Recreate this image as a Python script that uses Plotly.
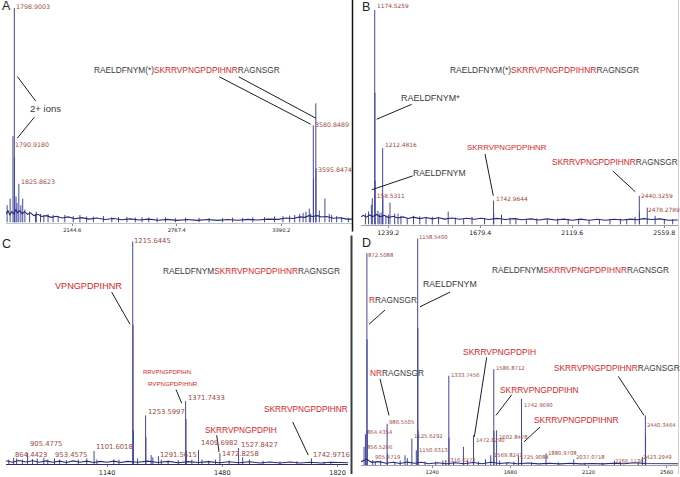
import plotly.graph_objects as go

W, H = 680, 477

# ---------------- DATA ----------------
# Panel A
A_mz = [1790.9180, 1798.9003, 1825.8623, 3580.8489, 3595.8474]
A_int = [39.7, 98.6, 17.8, 44.7, 54.8]
A_minor_mz = [1756, 1774, 1800.0, 1809, 1815, 1838, 1849, 1862, 1890, 1925, 1930, 1955, 1975, 2000,
              2030, 2060, 2100, 2150, 2190, 2230, 2270, 2330, 2380, 2420, 2470, 2520, 2560, 2600,
              2650, 2700, 2760, 2820, 2900, 2960, 3040, 3100, 3160, 3220, 3290, 3350, 3400, 3440,
              3470, 3500, 3520, 3537, 3557, 3565, 3582, 3597, 3617, 3650, 3676, 3690, 3720, 3750, 3790]
A_minor_int = [8, 11, 30, 12, 9, 8, 11, 6, 5, 4, 5, 4, 3.5, 4,
               3.5, 3, 3.5, 3, 3.5, 2.8, 2.8, 3, 2.5, 2.5, 2.6, 2.3, 2.5, 2.3,
               2.2, 2.4, 2, 2.2, 2.2, 2.1, 2, 2.3, 2.2, 2.4, 2.5, 2.8, 3, 3.2,
               3.5, 4, 4.5, 5, 6.4, 4, 20, 25, 5.5, 11, 4, 3.5, 3, 2.5, 2.2]
A_base_mz = [1750, 1762, 1772, 1784, 1796, 1808, 1818, 1832, 1846, 1860, 1878, 1896, 1915, 1940, 1962,
             1990, 2020, 2050, 2085, 2120, 2160, 2200, 2245, 2290, 2340, 2390, 2440, 2490, 2545, 2600,
             2655, 2710, 2770, 2830, 2890, 2950, 3010, 3070, 3130, 3190, 3250, 3310, 3370, 3420, 3460,
             3500, 3530, 3555, 3575, 3605, 3630, 3660, 3700, 3740, 3780, 3811]
A_base_int = [4, 5.5, 3.5, 5, 4, 6, 4.5, 5.5, 4, 5, 3.8, 4.5, 3.2, 3.8, 2.8,
              3.2, 2.4, 2.9, 2.1, 2.6, 1.8, 2.3, 1.6, 2.1, 1.4, 1.9, 1.3, 1.7, 1.2, 1.6,
              1.1, 1.5, 1.0, 1.4, 1.0, 1.4, 1.0, 1.4, 1.1, 1.5, 1.2, 1.6, 1.5, 2.1, 1.9,
              2.6, 2.4, 3.2, 2.8, 3.2, 2.6, 2.8, 2.0, 2.2, 1.6, 1.6]
A_ticks = ["2144.6", "2767.4", "3390.2"]

# Panel B
B_mz = [1158.5311, 1174.5259, 1212.4816, 1742.9644, 2440.3259, 2478.2789]
B_int = [9, 97.7, 34.8, 10.9, 13.1, 7.7]
B_minor_mz = [1130, 1145, 1163, 1175.53, 1176.5, 1190, 1196, 1205, 1213.5, 1228, 1240, 1247.7, 1270,
              1286, 1300, 1330, 1360, 1390, 1420, 1450, 1480, 1526, 1560, 1600, 1640, 1700,
              1743.97, 1781, 1822, 1850, 1900, 1950, 2000, 2050, 2100, 2150, 2200, 2250, 2300, 2350,
              2380, 2420, 2441.3, 2516, 2560, 2600]
B_minor_int = [5, 6, 12, 60, 20, 6.3, 5, 5.5, 12, 4, 4.5, 10, 5,
               5, 4, 3, 4, 3.8, 3, 3.6, 3.5, 5.9, 3.2, 2.5, 3.5, 3,
               5, 4.5, 3.2, 3, 2, 2.8, 2, 2.8, 2.6, 2.6, 2, 2.5, 2.6, 2.7,
               2.5, 3.5, 6, 4, 2.5, 2.5]
B_base_mz = [1109, 1120, 1135, 1150, 1165, 1182, 1200, 1220, 1240, 1262, 1285, 1310, 1335, 1360, 1390,
             1420, 1450, 1480, 1510, 1545, 1580, 1615, 1650, 1685, 1720, 1760, 1800, 1840, 1880, 1920,
             1960, 2000, 2040, 2080, 2120, 2160, 2200, 2240, 2280, 2320, 2360, 2400, 2430, 2460, 2500,
             2540, 2580, 2625]
B_base_int = [3.5, 4.2, 3.4, 4.4, 3.6, 4.6, 3.6, 4.2, 3.2, 3.8, 3, 3.5, 2.8, 3.4, 2.7,
              3.2, 2.6, 3.1, 2.5, 3, 2.4, 2.9, 2.4, 2.9, 2.3, 2.8, 2.3, 2.7, 2.2, 2.6,
              2.1, 2.6, 2.1, 2.5, 2.0, 2.5, 2.0, 2.4, 2.0, 2.4, 2.1, 2.5, 2.2, 2.7, 2.3,
              2.6, 2.0, 2.1]
B_ticks = ["1239.2", "1679.4", "2119.6", "2559.8"]

# Panel C
C_mz = [864.4423, 905.4775, 953.4575, 1101.6018, 1215.6445, 1253.5997, 1291.5615, 1371.7433,
        1409.6982, 1472.8258, 1527.8427, 1742.9716]
C_int = [2.8, 4.9, 2.8, 5.8, 99.1, 21.7, 3.5, 28, 6.2, 4.9, 7.1, 2.5]
C_minor_mz = [850, 873, 890, 920, 934, 965, 985, 1000, 1020, 1055, 1080, 1110, 1160, 1175, 1216.65,
              1217.65, 1230, 1254.6, 1270, 1275, 1300, 1320, 1350, 1372.75, 1373.7, 1390, 1420, 1440,
              1460, 1500, 1540, 1560, 1600, 1650, 1700, 1780, 1800]
C_minor_int = [2, 2.5, 2, 2.2, 2.5, 2, 2.5, 2, 1.8, 2, 2.5, 2, 2, 2, 62,
               15, 2.5, 12, 4, 3, 2, 1.5, 1.8, 20, 6, 2, 2, 1.5,
               2, 1.5, 3, 2, 1.5, 1.2, 1.2, 1, 1]
C_base_mz = [842, 860, 880, 900, 920, 940, 960, 980, 1000, 1020, 1040, 1060, 1080, 1100, 1120, 1140,
             1160, 1180, 1200, 1230, 1260, 1290, 1320, 1350, 1380, 1410, 1440, 1470, 1500, 1530, 1560,
             1590, 1620, 1650, 1680, 1710, 1740, 1770, 1800, 1830, 1851]
C_base_int = [1.5, 0.8, 1.6, 0.9, 1.5, 0.8, 1.4, 0.8, 1.3, 0.7, 1.4, 0.8, 1.3, 0.7, 1.2, 0.8,
              1.3, 0.7, 1.2, 0.8, 1.3, 0.7, 1.2, 0.6, 1.1, 0.7, 1.1, 0.6, 1.0, 0.6, 1.0,
              0.5, 0.9, 0.5, 0.9, 0.5, 0.8, 0.5, 0.8, 0.5, 0.6]
C_ticks = ["1140", "1480", "1820"]

# Panel D
D_mz = [856.5266, 864.4354, 872.5088, 905.4719, 986.5505, 1125.6292, 1150.6313, 1158.5400, 1316.6272,
        1333.7456, 1472.8290, 1569.8241, 1586.8712, 1602.8478, 1725.9084, 1742.9690, 1880.9708,
        2037.0718, 2266.1136, 2423.2949, 2440.3464]
D_int = [8, 13.5, 92.7, 2.2, 18.1, 11.6, 6.5, 99.1, 2.2,
         39.1, 13, 4.3, 42, 15.2, 3.9, 29, 5.1,
         2.5, 1.9, 3.6, 21.7]
D_minor_mz = [873.5, 874.5, 920, 950, 987.5, 1030, 1060, 1087, 1100, 1159.54, 1160.5, 1200, 1260, 1300,
              1334.7, 1360, 1416, 1440, 1500, 1540, 1587.9, 1620, 1660, 1700, 1743.97, 1800, 1950,
              2100, 2200, 2300, 2400, 2441.35, 2442.3]
D_minor_int = [55, 15, 1.5, 2, 5, 1.5, 2, 4.3, 3, 60, 15, 1.5, 1.5, 2,
               12, 1.5, 8, 2, 1.5, 2.5, 15, 2, 1.2, 1.5, 10, 1.2, 1.2,
               1, 1, 1.2, 1.5, 13, 4]
D_base_mz = [840, 870, 900, 940, 980, 1020, 1060, 1100, 1140, 1180, 1220, 1270, 1320, 1370, 1420, 1470,
             1520, 1570, 1620, 1670, 1720, 1780, 1840, 1900, 1960, 2020, 2080, 2140, 2200, 2260, 2320,
             2380, 2440, 2500, 2560, 2624]
D_base_int = [1.5, 2.5, 1.2, 1.5, 0.8, 1.2, 0.7, 1.3, 0.8, 1.2, 0.6, 1.0, 0.6, 1.0, 0.6, 1.1,
              0.6, 1.2, 0.7, 1.0, 0.6, 0.9, 0.5, 0.8, 0.5, 0.8, 0.5, 0.7, 0.5, 0.8, 0.6,
              1.0, 0.7, 0.7, 0.5, 0.6]
D_ticks = ["1240", "1680", "2120", "2560"]

SEQ_FULL_STAR = [("RAELDFNYM(*)", "k"), ("SKRRVPNGPDPIHNR", "r"), ("RAGNSGR", "k")]
SEQ_FULL = [("RAELDFNYM", "k"), ("SKRRVPNGPDPIHNR", "r"), ("RAGNSGR", "k")]

# ---------------- STYLE / LAYOUT ----------------
RED = "#d8262a"
GRAY = "#3a3a3a"
LABC = "#9c4a44"
SPEC = "#4347a0"
BASEC = "#262a72"
SEQFONT = "Liberation Sans, Arial, sans-serif"
NARROW = 0.83
NUMFONT = "DejaVu Sans, Verdana, sans-serif"


def P(x):
    return x / W


def Q(y):
    return 1 - y / H


def seqhtml(parts):
    return "".join(
        "<span style='color:%s'>%s</span>" % (RED if c == "r" else GRAY, t) for t, c in parts)


panels = [
    dict(mz=A_mz, inten=A_int, mmz=A_minor_mz, mint=A_minor_int, bmz=A_base_mz, bint=A_base_int,
         ticks=A_ticks, xdom=(6, 352), ydom=(5, 224), xr=(1749.4, 3811.5), tfs=5.2, lfs=6.3,
         axc="#c4c4d0",
         shifts={"1798.9003": (1, 2), "1790.9180": (1, -8), "1825.8623": (1, 2),
                 "3580.8489": (1, 1), "3595.8474": (1, -66)}),
    dict(mz=B_mz, inten=B_int, mmz=B_minor_mz, mint=B_minor_int, bmz=B_base_mz, bint=B_base_int,
         ticks=B_ticks, xdom=(361, 678), ydom=(5, 226), xr=(1108.9, 2625.4), tfs=6.3, lfs=5.9,
         axc="#9a9aa8",
         shifts={"1174.5259": (1, 4), "1212.4816": (1, 3), "1158.5311": (1, 9),
                 "1742.9644": (1, 2), "2440.3259": (1, 0), "2478.2789": (0, -2)}),
    dict(mz=C_mz, inten=C_int, mmz=C_minor_mz, mint=C_minor_int, bmz=C_base_mz, bint=C_base_int,
         ticks=C_ticks, xdom=(6, 348), ydom=(241, 467), xr=(841.8, 1850.7), tfs=6.5, lfs=6.8,
         axc="#2a2d70",
         shifts={"864.4423": (0, 3), "905.4775": (1, 9), "953.4575": (10, 3), "1101.6018": (1, 4),
                 "1215.6445": (0, 1), "1253.5997": (1, 3), "1291.5615": (1, 1),
                 "1371.7433": (1, 3), "1409.6982": (1, 7), "1472.8258": (1, -1),
                 "1527.8427": (1, 3), "1742.9716": (1, 3)}),
    dict(mz=D_mz, inten=D_int, mmz=D_minor_mz, mint=D_minor_int, bmz=D_base_mz, bint=D_base_int,
         ticks=D_ticks, xdom=(361, 678), ydom=(238, 468), xr=(839.3, 2624.0), tfs=5.2, lfs=5.3,
         axc="#9a9aa8",
         shifts={"872.5088": (0, -2), "1158.5400": (0, 2), "864.4354": (1, 2), "856.5266": (2, 0),
                 "905.4719": (1, 3), "986.5505": (1, 2), "1125.6292": (1, 3), "1150.6313": (2, 0),
                 "1316.6272": (0, 0), "1333.7456": (1, 1), "1472.8290": (1, -5),
                 "1569.8241": (2, 0), "1586.8712": (1, 1), "1602.8478": (1, -7),
                 "1725.9084": (1, -1), "1742.9690": (1, -6), "1880.9708": (1, 0),
                 "2037.0718": (1, 2), "2266.1136": (0, 0), "2423.2949": (0, 0),
                 "2440.3464": (1, -10)}),
]

fig = go.Figure()
layout = dict(width=W, height=H, margin=dict(l=0, r=0, t=0, b=0), paper_bgcolor="white",
              plot_bgcolor="rgba(0,0,0,0)", showlegend=False)
annotations = []
shapes = []

for i, p in enumerate(panels):
    n = "" if i == 0 else str(i + 1)
    xa, ya = "x" + n, "y" + n
    xs, ys = [], []
    for m, h in list(zip(p["mz"], p["inten"])) + list(zip(p["mmz"], p["mint"])):
        xs += [m, m, None]
        ys += [0, h, None]
    fig.add_trace(go.Scatter(x=xs, y=ys, mode="lines", line=dict(color=SPEC, width=1),
                             xaxis=xa, yaxis=ya, hoverinfo="skip"))
    fig.add_trace(go.Scatter(x=p["bmz"], y=p["bint"], mode="lines",
                             line=dict(color=BASEC, width=1.1), xaxis=xa, yaxis=ya,
                             hoverinfo="skip"))
    x0, x1 = p["xdom"]
    y0, y1 = p["ydom"]
    layout["xaxis" + n] = dict(domain=[P(x0), P(x1)], range=list(p["xr"]), anchor=ya,
                               tickvals=[float(t) for t in p["ticks"]], ticktext=p["ticks"],
                               showgrid=False, zeroline=False, showline=True,
                               linecolor=p["axc"], linewidth=1, ticks="outside", ticklen=2,
                               tickcolor="#888", tickfont=dict(size=p["tfs"], color="#222",
                                                               family=NUMFONT))
    layout["yaxis" + n] = dict(domain=[Q(y1), Q(y0)], range=[0, 100], anchor=xa, visible=False)
    for m, h in zip(p["mz"], p["inten"]):
        t = "%.4f" % m
        dx, dy = p["shifts"].get(t, (1, 0))
        annotations.append(dict(x=m, y=h, xref=xa, yref=ya, text=t, showarrow=False,
                                xanchor="left", yanchor="middle", xshift=dx, yshift=dy,
                                borderpad=0,
                                font=dict(size=p["lfs"], color=LABC, family=NUMFONT)))

for letter, lx, ly in [("A", 0, 6), ("B", 360, 7), ("C", 0, 245.5), ("D", 360, 245)]:
    annotations.append(dict(x=P(lx), y=Q(ly), xref="paper", yref="paper", text=letter,
                            showarrow=False, xanchor="left", yanchor="middle",
                            font=dict(size=12.5, color="#222", family="Liberation Sans, Arial")))

texts = [
    ([("2+ ions", "k")], 29, 109, 11.5),
    (SEQ_FULL_STAR, 92.5, 70.5, 10),
    (SEQ_FULL_STAR, 448.5, 70, 10.2),
    ([("RAELDFNYM*", "k")], 399.5, 99, 10.8),
    ([("RAELDFNYM", "k")], 412, 174, 10.3),
    ([("SKRRVPNGPDPIHNR", "r")], 465.5, 148, 9.5),
    ([("SKRRVPNGPDPIHNR", "r"), ("RAGNSGR", "k")], 550.5, 163, 10),
    (SEQ_FULL, 162, 273, 10),
    ([("VPNGPDPIHNR", "r")], 53.5, 288, 11),
    ([("RRVPNGPDPIHN", "r")], 141.5, 374.7, 7.2),
    ([("RVPNGPDPIHNR", "r")], 146.5, 386.3, 7.4),
    ([("SKRRVPNGPDPIH", "r")], 203.5, 433, 10),
    ([("SKRRVPNGPDPIHNR", "r")], 263, 412, 10),
    (SEQ_FULL, 490.5, 272, 10),
    ([("RAELDFNYM", "k")], 421.5, 285.7, 10.5),
    ([("R", "r"), ("RAGNSGR", "k")], 368, 302.3, 10),
    ([("NR", "r"), ("RAGNSGR", "k")], 369, 375.3, 10),
    ([("SKRRVPNGPDPIH", "r")], 461.5, 354, 10.2),
    ([("SKRRVPNGPDPIHN", "r")], 499, 392, 10.1),
    ([("SKRRVPNGPDPIHNR", "r")], 532.5, 422.3, 10.1),
    ([("SKRRVPNGPDPIHNR", "r"), ("RAGNSGR", "k")], 552.5, 370.3, 10),
]
for parts, lx, ly, fs in texts:
    annotations.append(dict(x=P(lx), y=Q(ly), xref="paper", yref="paper", text=seqhtml(parts),
                            showarrow=False, xanchor="left", yanchor="middle", borderpad=0,
                            font=dict(size=fs * NARROW, family=SEQFONT, color=GRAY)))

leaders = [
    (17.3, 77, 35.7, 101.7), (34.3, 118, 17.3, 139), (219.3, 77.3, 310.7, 125), (238.7, 77.3, 316, 119),
    (411.7, 105, 376.7, 120), (412.7, 177, 371.7, 191), (485, 155, 493.3, 197), (612.7, 172, 635.3, 193),
    (111.7, 294, 130, 326.3), (176, 392, 181.7, 405.7), (216.7, 438, 219, 454.7), (292.7, 424.7, 308.3, 458),
    (450, 294, 420, 308.7), (385, 312, 369, 326.3), (380, 381.3, 389, 418), (486.7, 359.7, 474.3, 439.7),
    (511.7, 397.3, 496, 418), (540, 429.7, 524, 444.7), (618.3, 378.7, 644, 418),
]
for a, b, c, d in leaders:
    shapes.append(dict(type="line", xref="paper", yref="paper", x0=P(a), y0=Q(b), x1=P(c), y1=Q(d),
                       line=dict(color="#1e1e1e", width=1)))

shapes.append(dict(type="line", xref="paper", yref="paper", x0=P(352.5), x1=P(352.5), y0=Q(0), y1=Q(233),
                   line=dict(color="#111", width=1.5)))
shapes.append(dict(type="line", xref="paper", yref="paper", x0=P(351.5), x1=P(351.5), y0=Q(237), y1=Q(477),
                   line=dict(color="#34403d", width=2)))
shapes.append(dict(type="line", xref="paper", yref="paper", x0=P(678.5), x1=P(678.5), y0=Q(0), y1=Q(477),
                   line=dict(color="#cfcfcf", width=1)))

layout["annotations"] = annotations
layout["shapes"] = shapes
fig.update_layout(**layout)
fig.write_html("out.html", config={"displayModeBar": False},
               post_script="document.body.style.margin='0';document.body.style.padding='0';"
                           "document.body.style.overflow='hidden';")
